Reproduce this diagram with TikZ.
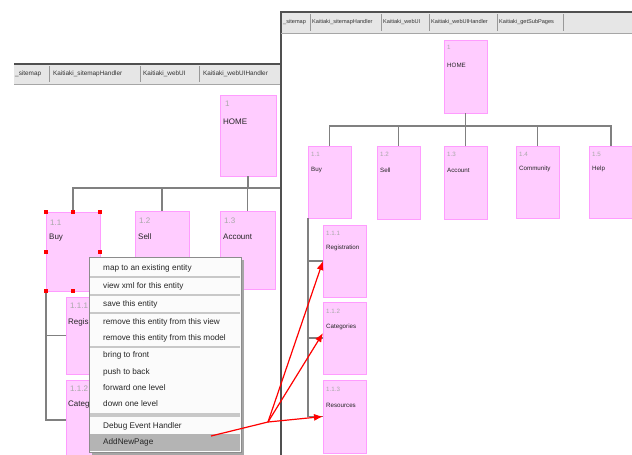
\documentclass[tikz,border=0pt]{standalone}
\usepackage{fontspec}
\setmainfont{Liberation Sans}
\usetikzlibrary{arrows.meta}
\definecolor{pinkfill}{HTML}{FFCCFF}
\definecolor{pinkline}{HTML}{FF9CFF}
\definecolor{tabgray}{HTML}{E6E6E6}
\definecolor{darkedge}{HTML}{505050}
\definecolor{treegray}{HTML}{808080}
\definecolor{numgray}{HTML}{A8A8A8}
\definecolor{menubg}{HTML}{FBFBFB}
\definecolor{menusep}{HTML}{C8C8C8}
\definecolor{hilite}{HTML}{B4B4B4}
\tikzset{
  pbox/.style={draw=pinkline, fill=pinkfill, line width=1pt, inner sep=0pt, outer sep=0pt, anchor=north west},
  numlbl/.style={text=numgray, inner sep=0pt, anchor=west},
  namelbl/.style={text=black!85, inner sep=0pt, anchor=west},
  tree/.style={draw=treegray, line width=1.3pt},
  tabtxt/.style={inner sep=0pt, anchor=west, font=\fontsize{5.6}{6}\selectfont, text=black!80},
  tabtxtL/.style={inner sep=0pt, anchor=west, font=\fontsize{6.4}{7}\selectfont, text=black!80},
  menuitem/.style={inner sep=0pt, anchor=west, font=\fontsize{8.2}{9}\selectfont, text=black!85},
  handle/.style={fill=red, draw=none, minimum size=4pt, inner sep=0pt},
  redarrow/.style={draw=red, line width=1.2pt, -{Latex[length=9pt,width=7pt]}},
}
\begin{document}
\begin{tikzpicture}[x=1pt,y=-1pt]
\useasboundingbox (0,0) rectangle (632,455);
\clip (0,0) rectangle (632,455);
\fill[white] (0,0) rectangle (632,455);

% ---------------- left window ----------------
\fill[tabgray] (14,64) rectangle (281,84);
\draw[darkedge, line width=1.2pt] (14,64) -- (281,64);
\draw[black!35, line width=0.8pt] (14,84) -- (281,84);
\node[tabtxtL] (lt1) at (15,74) {\_sitemap};
\node[tabtxtL] (lt2) at (53,74) {Kaitiaki\_sitemapHandler};
\node[tabtxtL] (lt3) at (143,74) {Kaitiaki\_webUI};
\node[tabtxtL] (lt4) at (203,74) {Kaitiaki\_webUIHandler};
\foreach \x in {49,140,199} \draw[black!40, line width=0.7pt] (\x,66) -- (\x,82);

\begin{scope}[font=\fontsize{8}{9}\selectfont]
\node[pbox, minimum width=56, minimum height=81] (lhome) at (220,95) {};
\node[numlbl] (lhomeN) at (225,104) {1};
\node[namelbl] (lhomeT) at (223,122) {HOME};

\node[pbox, minimum width=54, minimum height=79] (lbuy) at (46,212) {};
\node[numlbl] (lbuyN) at (50,223) {1.1};
\node[namelbl] (lbuyT) at (49,238) {Buy};
\node[pbox, minimum width=54, minimum height=79] (lsell) at (135,211) {};
\node[numlbl] (lsellN) at (139,221) {1.2};
\node[namelbl] (lsellT) at (138,237) {Sell};
\node[pbox, minimum width=55, minimum height=78] (lacc) at (220,211) {};
\node[numlbl] (laccN) at (224,221) {1.3};
\node[namelbl] (laccT) at (223,237) {Account};

\node[pbox, minimum width=54, minimum height=77] (lreg) at (66,297) {};
\node[numlbl] (lregN) at (70,306) {1.1.1};
\node[namelbl] (lregT) at (68,322) {Regis};
\node[pbox, minimum width=54, minimum height=80] (lcat) at (66,380) {};
\node[numlbl] (lcatN) at (70,389) {1.1.2};
\node[namelbl] (lcatT) at (68,405) {Categ};
\end{scope}

\coordinate (lbus) at (0,188);
\draw[tree] (lhome.south) -- (lhome.south |- lbus);
\draw[tree] (lbuy.north) -- (lbuy.north |- lbus) -- (285,188);
\draw[tree] (lsell.north) -- (lsell.north |- lbus);
\draw[tree] (lacc.north) -- (lacc.north |- lbus);
\draw[tree] (lbuy.south west) -- (lbuy.south west |- lcat.west) -- (lcat.west);
\draw[tree] (lbuy.south west |- lreg.west) -- (lreg.west);

% selection handles
\foreach \p in {north west, north, north east, west, east, south west, south, south east}
  \node[handle] at (lbuy.\p) {};

% context menu
\fill[black!35] (92,260) rectangle (244,455);
\fill[menubg] (89,257) rectangle (241,452);
\draw[black!45, line width=0.6pt] (89,257) rectangle (241,452);
\foreach \y in {277,295,313,347} \draw[menusep, line width=1.2pt] (90,\y) -- (240,\y);
\fill[menusep] (90,413) rectangle (240,417);
\fill[hilite] (90,434) rectangle (240,451);
\node[menuitem] (m1) at (103,268) {map to an existing entity};
\node[menuitem] (m2) at (103,286) {view xml for this entity};
\node[menuitem] (m3) at (103,304) {save this entity};
\node[menuitem] (m4) at (103,322) {remove this entity from this view};
\node[menuitem] (m5) at (103,338) {remove this entity from this model};
\node[menuitem] (m6) at (103,355) {bring to front};
\node[menuitem] (m7) at (103,372) {push to back};
\node[menuitem] (m8) at (103,388) {forward one level};
\node[menuitem] (m9) at (103,404) {down one level};
\node[menuitem] (m10) at (103,426) {Debug Event Handler};
\node[menuitem] (m11) at (103,442) {AddNewPage};

% ---------------- right window ----------------
\fill[white] (281,12) rectangle (632,455);
\fill[tabgray] (281,12) rectangle (632,33);
\draw[darkedge, line width=1.2pt] (632,12) -- (281,12) -- (281,455);
\draw[black!35, line width=0.8pt] (281,33) -- (632,33);
\node[tabtxt] (rt1) at (283,22) {\_sitemap};
\node[tabtxt] (rt2) at (312,22) {Kaitiaki\_sitemapHandler};
\node[tabtxt] (rt3) at (383,22) {Kaitiaki\_webUI};
\node[tabtxt] (rt4) at (431,22) {Kaitiaki\_webUIHandler};
\node[tabtxt] (rt5) at (499,22) {Kaitiaki\_getSubPages};
\foreach \x in {310,381,429,497,563} \draw[black!40, line width=0.7pt] (\x,14) -- (\x,31);

\begin{scope}[font=\fontsize{6.2}{7}\selectfont]
\node[pbox, minimum width=43, minimum height=73] (rhome) at (444,40) {};
\node[numlbl] (rhomeN) at (447,47) {1};
\node[namelbl] (rhomeT) at (447,65) {HOME};

\node[pbox, minimum width=43, minimum height=72] (rbuy) at (308,146) {};
\node[numlbl] (rbuyN) at (311,154) {1.1};
\node[namelbl] (rbuyT) at (311,170) {Buy};
\node[pbox, minimum width=43, minimum height=73] (rsell) at (377,146) {};
\node[numlbl] (rsellN) at (380,154) {1.2};
\node[namelbl] (rsellT) at (380,170) {Sell};
\node[pbox, minimum width=43, minimum height=73] (racc) at (444,146) {};
\node[numlbl] (raccN) at (447,154) {1.3};
\node[namelbl] (raccT) at (447,170) {Account};
\node[pbox, minimum width=43, minimum height=72] (rcom) at (516,146) {};
\node[numlbl] (rcomN) at (519,154) {1.4};
\node[namelbl] (rcomT) at (519,169) {Community};
\node[pbox, minimum width=44, minimum height=72] (rhelp) at (589,146) {};
\node[numlbl] (rhelpN) at (592,154) {1.5};
\node[namelbl] (rhelpT) at (592,169) {Help};

\node[pbox, minimum width=43, minimum height=72] (rreg) at (323,225) {};
\node[numlbl] (rregN) at (326,233) {1.1.1};
\node[namelbl] (rregT) at (326,248) {Registration};
\node[pbox, minimum width=43, minimum height=72] (rcat) at (323,302) {};
\node[numlbl] (rcatN) at (326,311) {1.1.2};
\node[namelbl] (rcatT) at (326,327) {Categories};
\node[pbox, minimum width=43, minimum height=73] (rres) at (323,380) {};
\node[numlbl] (rresN) at (326,389) {1.1.3};
\node[namelbl] (rresT) at (326,405) {Resources};
\end{scope}

\coordinate (rbus) at (0,126);
\draw[tree] (rhome.south) -- (rhome.south |- rbus);
\draw[tree] (rbuy.north) -- (rbuy.north |- rbus) -- (rhelp.north |- rbus) -- (rhelp.north);
\draw[tree] (rsell.north) -- (rsell.north |- rbus);
\draw[tree] (racc.north) -- (racc.north |- rbus);
\draw[tree] (rcom.north) -- (rcom.north |- rbus);
\draw[tree] (rbuy.south west) -- (rbuy.south west |- rres.west) -- (rres.west);
\draw[tree] (rbuy.south west |- rreg.west) -- (rreg.west);
\draw[tree] (rbuy.south west |- rcat.west) -- (rcat.west);

% ---------------- red arrows ----------------
\coordinate (tail) at (211,436);
\coordinate (hub) at (268,422);
\draw[red, line width=1.2pt] (tail) -- (hub);
\draw[redarrow] (hub) -- (rreg.west);
\draw[redarrow] (hub) -- ([yshift=5pt]rcat.west);
\draw[redarrow] (hub) -- (rres.west);
\end{tikzpicture}
\end{document}
